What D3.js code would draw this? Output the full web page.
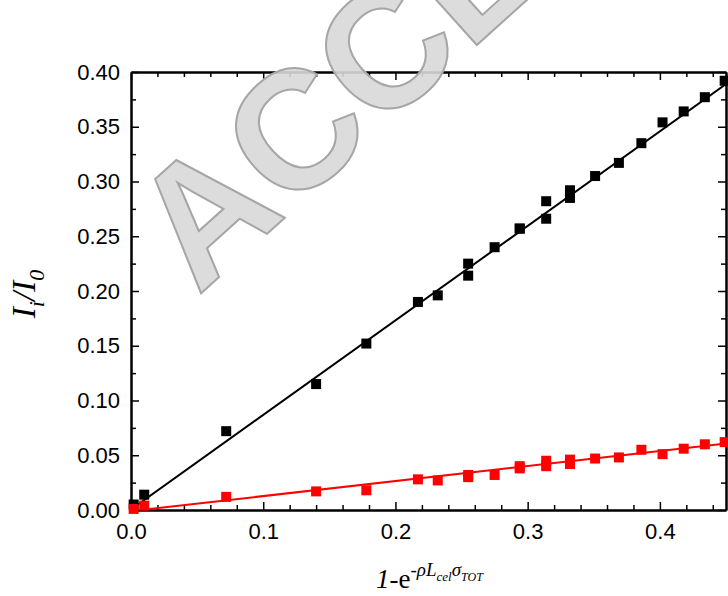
<!DOCTYPE html>
<html>
<head>
<meta charset="utf-8">
<script src="https://cdn.jsdelivr.net/npm/d3@7"></script>
<style>
  body { margin: 0; background: #fff; }
  svg { display: block; }
  .axis text { font-family: Arial, "Liberation Sans", sans-serif; font-size: 22px; fill: #000; }
  .axis line { stroke: #000; stroke-width: 1.5; }
  .axis path { stroke: #000; stroke-width: 2; }
  .label { font-family: "Times New Roman", "Liberation Serif", serif; fill: #000; }
</style>
</head>
<body>
<svg id="chart" width="728" height="596"></svg>
<script>
// x positions shared by both series
const xValues = [0.002, 0.010, 0.072, 0.140, 0.178, 0.217, 0.232, 0.255, 0.255, 0.275, 0.294, 0.294,
  0.314, 0.314, 0.332, 0.332, 0.351, 0.369, 0.386, 0.402, 0.418, 0.434, 0.449]
const blackValues = [0.005, 0.014, 0.072, 0.115, 0.152, 0.190, 0.196, 0.225, 0.214, 0.240, 0.257, 0.257,
  0.282, 0.266, 0.292, 0.285, 0.305, 0.317, 0.335, 0.354, 0.364, 0.377, 0.392]
const redValues = [0.001, 0.004, 0.012, 0.017, 0.018, 0.028, 0.027, 0.032, 0.030, 0.032, 0.040, 0.038,
  0.045, 0.040, 0.046, 0.042, 0.047, 0.048, 0.055, 0.051, 0.056, 0.060, 0.062]
// linear fit end points [x, y]
const blackFit = [[0, 0.0005], [0.45, 0.389]]
const redFit = [[0, -0.001], [0.45, 0.0607]]
// ticks
const xMajorTicks = [0, 0.1, 0.2, 0.3, 0.4]
const xMinorTicks = [0.02, 0.04, 0.06, 0.08, 0.12, 0.14, 0.16, 0.18, 0.22, 0.24, 0.26, 0.28, 0.32, 0.34, 0.36, 0.38, 0.42, 0.44]
const yMajorTicks = [0, 0.05, 0.10, 0.15, 0.20, 0.25, 0.30, 0.35, 0.40]
const yMinorTicks = [0.025, 0.075, 0.125, 0.175, 0.225, 0.275, 0.325, 0.375]

const margin = { top: 72, right: 2, bottom: 86, left: 131 }
const width = 728 - margin.left - margin.right
const height = 596 - margin.top - margin.bottom

const svg = d3.select('#chart')
const g = svg.append('g').attr('transform', `translate(${margin.left},${margin.top})`)

const xScale = d3.scaleLinear().domain([0, 0.45]).range([0, width])
const yScale = d3.scaleLinear().domain([0, 0.40]).range([height, 0])

drawAxes()
drawSeries()
drawLabels()
drawWatermark()

function drawAxes () {
  // bottom
  g.append('g').attr('class', 'axis').attr('transform', `translate(0,${height})`)
    .call(d3.axisBottom(xScale).tickValues(xMajorTicks).tickSize(-8).tickSizeOuter(0).tickPadding(13)
      .tickFormat(d3.format('.1f')))
  g.append('g').attr('class', 'axis').attr('transform', `translate(0,${height})`)
    .call(d3.axisBottom(xScale).tickValues(xMinorTicks).tickSize(-5).tickSizeOuter(0).tickFormat(''))
  // top
  g.append('g').attr('class', 'axis')
    .call(d3.axisTop(xScale).tickValues(xMajorTicks).tickSize(-8).tickSizeOuter(0).tickFormat(''))
  g.append('g').attr('class', 'axis')
    .call(d3.axisTop(xScale).tickValues(xMinorTicks).tickSize(-5).tickSizeOuter(0).tickFormat(''))
  // left
  g.append('g').attr('class', 'axis')
    .call(d3.axisLeft(yScale).tickValues(yMajorTicks).tickSize(-8).tickSizeOuter(0).tickPadding(11)
      .tickFormat(d3.format('.2f')))
  g.append('g').attr('class', 'axis')
    .call(d3.axisLeft(yScale).tickValues(yMinorTicks).tickSize(-5).tickSizeOuter(0).tickFormat(''))
  // right
  g.append('g').attr('class', 'axis').attr('transform', `translate(${xScale(0.45)},0)`)
    .call(d3.axisRight(yScale).tickValues(yMajorTicks).tickSize(-8).tickSizeOuter(0).tickFormat(''))
  g.append('g').attr('class', 'axis').attr('transform', `translate(${xScale(0.45)},0)`)
    .call(d3.axisRight(yScale).tickValues(yMinorTicks).tickSize(-5).tickSizeOuter(0).tickFormat(''))
}

function drawSeries () {
  svg.append('clipPath').attr('id', 'plotClip')
    .append('rect').attr('width', width).attr('height', height)

  const line = d3.line().x((d) => xScale(d[0])).y((d) => yScale(d[1]))
  const fits = [{ data: blackFit, color: '#000' }, { data: redFit, color: '#ff0000' }]
  g.selectAll('.fit').data(fits).join('path')
    .attr('class', 'fit')
    .attr('clip-path', 'url(#plotClip)')
    .attr('d', (d) => line(d.data))
    .attr('fill', 'none')
    .attr('stroke', (d) => d.color)
    .attr('stroke-width', 2)

  const size = 10
  const series = [{ values: blackValues, color: '#000' }, { values: redValues, color: '#ff0000' }]
  series.forEach((s) => {
    g.append('g').selectAll('rect').data(s.values).join('rect')
      .attr('x', (d, i) => xScale(xValues[i]) - size / 2)
      .attr('y', (d) => yScale(d) - size / 2)
      .attr('width', size)
      .attr('height', size)
      .attr('fill', s.color)
  })
}

function drawLabels () {
  // y label: I_i/I_0
  const yl = svg.append('text').attr('class', 'label')
    .attr('transform', 'translate(35,294) rotate(-90)')
    .attr('text-anchor', 'middle')
    .attr('font-size', 33)
    .attr('font-style', 'italic')
  yl.append('tspan').text('I')
  yl.append('tspan').attr('font-size', 22).attr('dy', 9).text('i')
  yl.append('tspan').attr('dy', -9).text('/I')
  yl.append('tspan').attr('font-size', 22).attr('dy', 9).text('0')

  // x label: 1-e^(-rho L_cel sigma_TOT)
  const xl = svg.append('text').attr('class', 'label')
    .attr('x', 376).attr('y', 588)
    .attr('font-size', 27)
  xl.append('tspan').attr('font-style', 'italic').text('1')
  xl.append('tspan').text('-e')
  xl.append('tspan').attr('font-size', 19).attr('dy', -12).text('-')
  xl.append('tspan').attr('font-size', 19).attr('font-style', 'italic').text('ρL')
  xl.append('tspan').attr('font-size', 13).attr('font-style', 'italic').attr('dy', 5).text('cel')
  xl.append('tspan').attr('font-size', 19).attr('font-style', 'italic').attr('dy', -5).text('σ')
  xl.append('tspan').attr('font-size', 12).attr('font-style', 'italic').attr('dy', 5).text('TOT')
}

function drawWatermark () {
  svg.append('text')
    .attr('transform', 'translate(198,296) rotate(-42)')
    .attr('font-family', 'Arial, "Liberation Sans", sans-serif')
    .attr('font-weight', 'bold')
    .attr('font-size', 168)
    .attr('fill', '#d8d8d8')
    .attr('fill-opacity', 0.9)
    .attr('stroke', '#a6a6a6')
    .attr('stroke-width', 2)
    .text('ACCEPTED MANUSCRIPT')
}
</script>
</body>
</html>
